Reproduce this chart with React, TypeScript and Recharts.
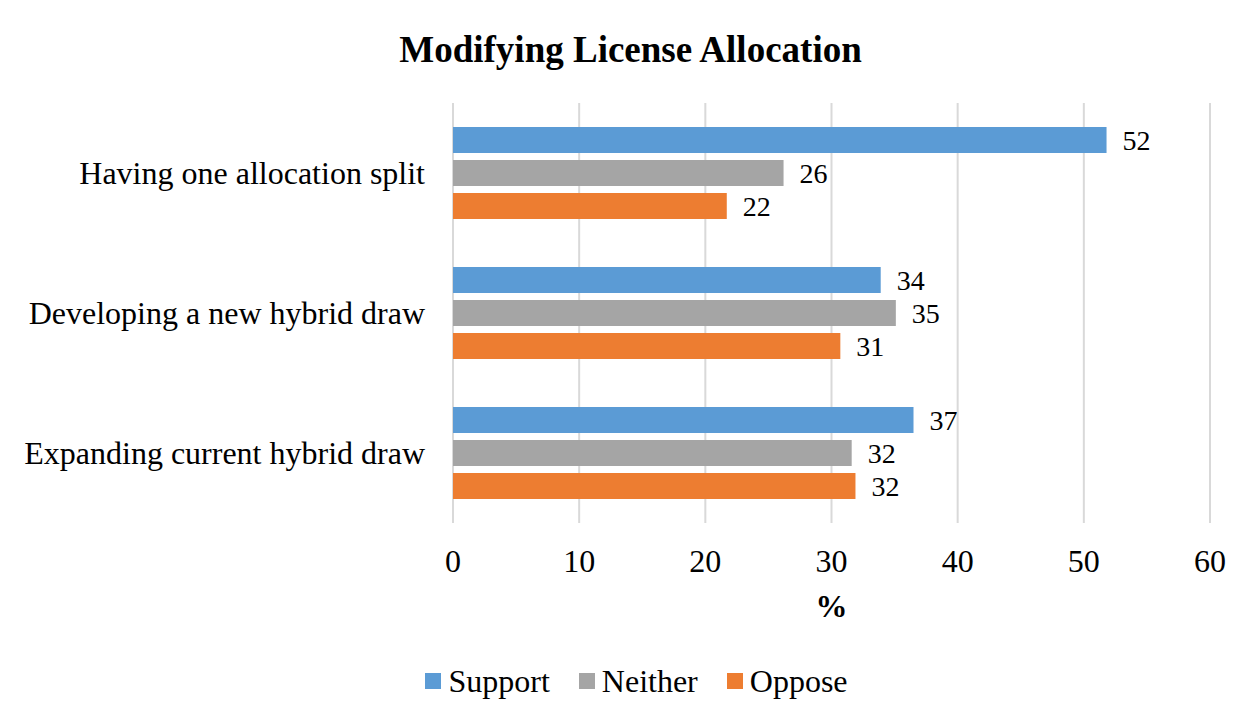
import React from 'react';
import { BarChart, Bar, XAxis, YAxis, CartesianGrid, Legend, LabelList } from 'recharts';

const categories = ['Having one allocation split', 'Developing a new hybrid draw', 'Expanding current hybrid draw'];
const supportValues = [51.8, 33.9, 36.5];
const neitherValues = [26.2, 35.1, 31.6];
const opposeValues = [21.7, 30.7, 31.9];
const xTicks = [0, 10, 20, 30, 40, 50, 60];
const seriesNames = ['Support', 'Neither', 'Oppose'];
const seriesKeys = ['support', 'neither', 'oppose'];
const seriesColors = ['#5B9BD5', '#A5A5A5', '#ED7D31'];

const data = categories.map((name, i) => ({
  name,
  support: supportValues[i],
  neither: neitherValues[i],
  oppose: opposeValues[i],
}));

const FONT = '"Liberation Serif", "Times New Roman", serif';

const renderLegend = () => (
  <div
    style={{
      display: 'flex',
      justifyContent: 'center',
      alignItems: 'center',
      paddingLeft: 12,
      fontFamily: FONT,
      fontSize: 32,
      lineHeight: '32px',
      color: '#000',
    }}
  >
    {seriesNames.map((n, i) => (
      <div key={n} style={{ display: 'flex', alignItems: 'center', marginRight: i < seriesNames.length - 1 ? 29 : 0 }}>
        <span style={{ display: 'inline-block', width: 16, height: 16, background: seriesColors[i], marginRight: 7 }} />
        <span>{n}</span>
      </div>
    ))}
  </div>
);

export default function App() {
  return (
    <div
      style={{
        position: 'relative',
        marginTop: -1,
        marginLeft: -2,
        borderTop: '1px solid #d9d9d9',
        borderLeft: '2px solid #d9d9d9',
        width: 1245,
        height: 711,
        background: '#fff',
      }}
    >
      <div
        style={{
          position: 'absolute',
          top: 23,
          left: 0,
          width: 1245,
          textAlign: 'center',
          fontFamily: FONT,
          fontWeight: 'bold',
          fontSize: 37,
          lineHeight: '37px',
          color: '#000',
        }}
      >
        Modifying License Allocation
      </div>
      <BarChart
        width={1245}
        height={711}
        data={data}
        layout="vertical"
        margin={{ top: 95, right: 43, left: 0, bottom: 96 }}
        barCategoryGap={24}
        barGap={7}
        style={{ fontFamily: FONT }}
      >
        <CartesianGrid horizontal={false} stroke="#d9d9d9" strokeWidth={2} />
        <XAxis
          type="number"
          domain={[0, 60]}
          ticks={xTicks}
          axisLine={false}
          tickLine={false}
          tickMargin={20}
          height={100}
          tick={{ fontSize: 32, fill: '#000', fontFamily: FONT }}
          label={{ value: '%', position: 'insideBottom', offset: 6, fontSize: 32, fontWeight: 'bold', fill: '#000', fontFamily: FONT }}
        />
        <YAxis
          type="category"
          dataKey="name"
          width={445}
          axisLine={false}
          tickLine={false}
          tickMargin={22}
          tick={{ fontSize: 32, fill: '#000', fontFamily: FONT }}
        />
        <Legend
          layout="horizontal"
          verticalAlign="middle"
          align="center"
          wrapperStyle={{ top: 657, left: 0, width: 1245 }}
          content={renderLegend}
        />
        {seriesKeys.map((k, i) => (
          <Bar key={k} dataKey={k} name={seriesNames[i]} fill={seriesColors[i]} isAnimationActive={false}>
            <LabelList
              dataKey={k}
              position="right"
              offset={16}
              formatter={(v: any) => Math.round(Number(v))}
              style={{ fontSize: 28, fill: '#000', fontFamily: FONT }}
            />
          </Bar>
        ))}
      </BarChart>
    </div>
  );
}
